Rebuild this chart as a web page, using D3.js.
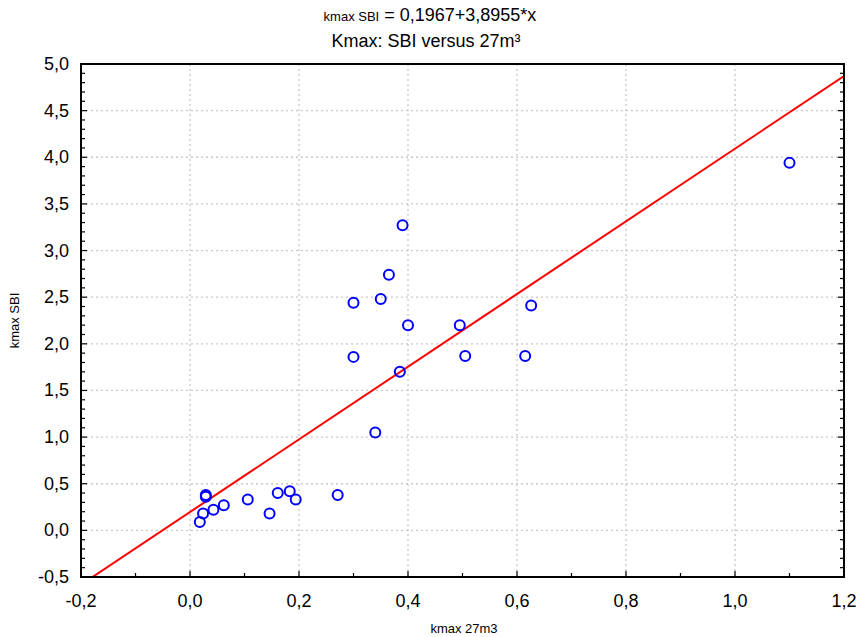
<!DOCTYPE html>
<html lang="en">
<head>
<meta charset="utf-8">
<title>Kmax: SBI versus 27m3</title>
<style>
  body { margin: 0; background: #fff; font-family: 'Liberation Sans', Arial, sans-serif; }
  svg { display: block; }
  text { fill: #000; }
  .tick-label { font-size: 18px; }
  .grid line { stroke: #c8c8c8; stroke-width: 1.3; stroke-dasharray: 2 3; }
  .pt { fill: none; stroke: #0000ff; stroke-width: 2; }
  .fit { stroke: #ff0000; stroke-width: 2; }
</style>
</head>
<body>
<svg width="856" height="637"></svg>
<script src="https://d3js.org/d3.v7.min.js"></script>
<script>
// data
var kmax27 = [1.10, 0.39, 0.365, 0.30, 0.35, 0.626, 0.40, 0.495, 0.30, 0.505, 0.615, 0.385, 0.34,
              0.271, 0.029, 0.029, 0.024, 0.018, 0.043, 0.062, 0.106, 0.146, 0.161, 0.183, 0.194];
var kmaxSBI = [3.94, 3.27, 2.74, 2.44, 2.48, 2.41, 2.20, 2.20, 1.86, 1.87, 1.87, 1.70, 1.05,
               0.38, 0.38, 0.36, 0.18, 0.09, 0.22, 0.27, 0.33, 0.18, 0.40, 0.42, 0.33];
var fitA = 0.1967, fitB = 3.8955;
var xTicks = [-0.2, 0.0, 0.2, 0.4, 0.6, 0.8, 1.0, 1.2];
var yTicks = [-0.5, 0.0, 0.5, 1.0, 1.5, 2.0, 2.5, 3.0, 3.5, 4.0, 4.5, 5.0];

var svg = d3.select('svg');
var pL = 81, pR = 844, pT = 64, pB = 577;

var x = d3.scaleLinear().domain([-0.2, 1.2]).range([pL, pR]);
var y = d3.scaleLinear().domain([-0.5, 5.0]).range([pB, pT]);
var fmt = function (d) { return d3.format('.1f')(d).replace('.', ',').replace('−', '-'); };

// grid
var grid = svg.append('g').attr('class', 'grid');
grid.selectAll('.gx').data(xTicks.slice(1, -1)).enter().append('line')
  .attr('x1', d => x(d)).attr('x2', d => x(d)).attr('y1', pT).attr('y2', pB);
grid.selectAll('.gy').data(yTicks.slice(1, -1)).enter().append('line')
  .attr('y1', d => y(d)).attr('y2', d => y(d)).attr('x1', pL).attr('x2', pR);

// ticks inside the frame
var minorX = d3.range(-0.2, 1.2001, 0.1);
var minorY = d3.range(-0.5, 5.0001, 0.1);
var ticks = svg.append('g').attr('stroke', '#000').attr('stroke-width', 1.2);
minorX.forEach(function (v) {
  var major = Math.abs(Math.round(v * 10) % 2) === 0;
  ticks.append('line').attr('x1', x(v)).attr('x2', x(v))
    .attr('y1', pB).attr('y2', pB - (major ? 6 : 4));
});
minorY.forEach(function (v) {
  var major = Math.abs(Math.round(v * 10) % 5) === 0;
  var len = major ? 6 : 4;
  ticks.append('line').attr('y1', y(v)).attr('y2', y(v)).attr('x1', pL).attr('x2', pL + len);
  ticks.append('line').attr('y1', y(v)).attr('y2', y(v)).attr('x1', pR).attr('x2', pR - len);
});

// tick labels
svg.append('g').selectAll('text').data(xTicks).enter().append('text')
  .attr('class', 'tick-label').attr('x', d => x(d)).attr('y', 607)
  .attr('text-anchor', 'middle').text(fmt);
svg.append('g').selectAll('text').data(yTicks).enter().append('text')
  .attr('class', 'tick-label').attr('x', 69).attr('y', d => y(d) + 6)
  .attr('text-anchor', 'end').text(fmt);

// regression line clipped to plot
svg.append('clipPath').attr('id', 'plotclip').append('rect')
  .attr('x', pL).attr('y', pT).attr('width', pR - pL).attr('height', pB - pT);
var fitData = x.domain().map(v => [v, fitA + fitB * v]);
svg.append('path').attr('class', 'fit').attr('clip-path', 'url(#plotclip)')
  .attr('d', d3.line().x(d => x(d[0])).y(d => y(d[1]))(fitData));

// points
svg.append('g').selectAll('circle').data(kmax27).enter().append('circle')
  .attr('class', 'pt').attr('cx', d => x(d)).attr('cy', (d, i) => y(kmaxSBI[i])).attr('r', 5);

// frame
svg.append('rect').attr('x', pL).attr('y', pT).attr('width', pR - pL).attr('height', pB - pT)
  .attr('fill', 'none').attr('stroke', '#000').attr('stroke-width', 2);

// titles
var t1 = svg.append('text').attr('x', 430).attr('y', 21).attr('text-anchor', 'middle');
t1.append('tspan').attr('font-size', 13).text('kmax SBI');
t1.append('tspan').attr('font-size', 18).text(' = 0,1967+3,8955*x');
svg.append('text').attr('x', 426).attr('y', 47).attr('text-anchor', 'middle')
  .attr('font-size', 18).text('Kmax: SBI versus 27m³');
svg.append('text').attr('x', 464).attr('y', 633).attr('text-anchor', 'middle')
  .attr('font-size', 13).text('kmax 27m3');
svg.append('text').attr('transform', 'translate(19,' + (pT + pB) / 2 + ') rotate(-90)')
  .attr('text-anchor', 'middle').attr('font-size', 13).text('kmax SBI');
</script>
</body>
</html>
